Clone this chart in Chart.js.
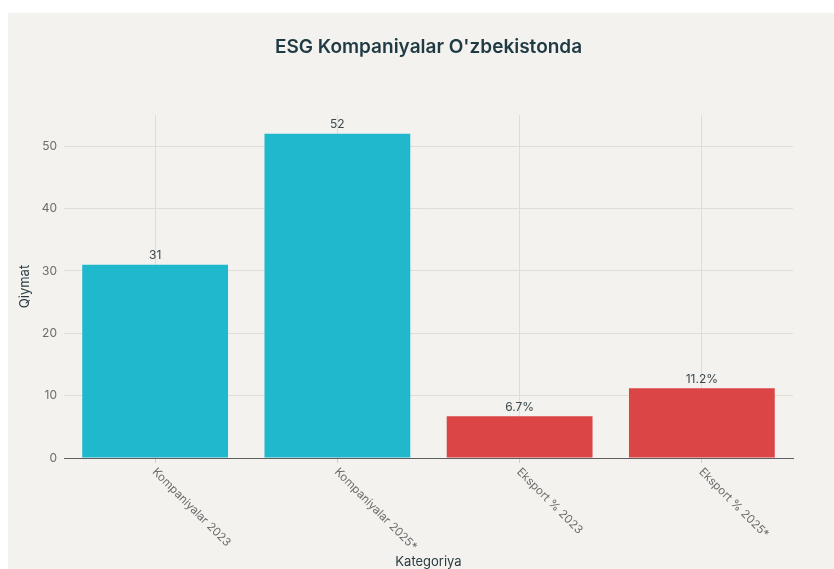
<!DOCTYPE html>
<html>
<head>
<meta charset="utf-8">
<script src="https://cdn.jsdelivr.net/npm/chart.js@4/dist/chart.umd.min.js"></script>
<style>
  html, body { margin: 0; padding: 0; background: #ffffff; }
  #wrap { position: absolute; left: 8px; top: 13px; width: 826px; height: 556px; background: #f3f2ee; }
</style>
</head>
<body>
<div id="wrap"><canvas id="c"></canvas></div>
<script>
const chartTitle = "ESG Kompaniyalar O'zbekistonda";
const categories = ["Kompaniyalar 2023", "Kompaniyalar 2025*", "Eksport % 2023", "Eksport % 2025*"];
const values = [31, 52, 6.7, 11.2];
const valueSuffix = ["", "", "%", "%"];
const barColors = ["#1FB8CD", "#1FB8CD", "#DB4545", "#DB4545"];
const yTicks = [0, 10, 20, 30, 40, 50];
const yMax = 55;
const xTitle = "Kategoriya";
const yTitle = "Qiymat";

const FONT = "Inter, 'Liberation Sans', Arial, sans-serif";

const customText = {
  id: 'customText',
  afterDatasetsDraw(chart) {
    const ctx = chart.ctx;
    const meta = chart.getDatasetMeta(0);
    ctx.save();
    ctx.font = "12px " + FONT;
    ctx.fillStyle = "#3b474d";
    ctx.textAlign = "center";
    ctx.textBaseline = "middle";
    meta.data.forEach((el, i) => {
      ctx.fillText(String(values[i]) + valueSuffix[i], el.x, el.y - 9);
    });
    ctx.restore();
  },
  afterDraw(chart) {
    const ctx = chart.ctx;
    const xs = chart.scales.x;
    ctx.save();
    // rotated category labels
    ctx.font = "11.5px " + FONT;
    ctx.fillStyle = "#6b6b6b";
    ctx.textAlign = "left";
    ctx.textBaseline = "middle";
    categories.forEach((lab, i) => {
      const x = xs.getPixelForTick(i) - 1;
      const y = xs.top + 12;
      ctx.save();
      ctx.translate(x, y);
      ctx.rotate(Math.PI / 4);
      ctx.fillText(lab, 0, 0);
      ctx.restore();
    });
    // chart title
    ctx.font = "600 19px " + FONT;
    ctx.fillStyle = "#1f3a43";
    ctx.textAlign = "center";
    ctx.textBaseline = "middle";
    const ca = chart.chartArea;
    ctx.fillText(chartTitle, (ca.left + ca.right) / 2, 34);
    ctx.restore();
  }
};

new Chart(document.getElementById('c'), {
  type: 'bar',
  data: {
    labels: categories,
    datasets: [{
      data: values,
      backgroundColor: barColors,
      borderWidth: 0,
      categoryPercentage: 0.8,
      barPercentage: 1.0
    }]
  },
  options: {
    responsive: true,
    maintainAspectRatio: false,
    animation: false,
    layout: { padding: { top: 102, right: 41, left: 0, bottom: 0 } },
    plugins: {
      legend: { display: false },
      title: { display: false },
      tooltip: { enabled: false }
    },
    scales: {
      x: {
        type: 'category',
        offset: true,
        grid: {
          display: true,
          offset: false,
          color: "#deddd8",
          lineWidth: 1,
          drawTicks: true,
          tickLength: 5,
          tickColor: "#cfcfcb"
        },
        border: { display: true, color: "#5e5e5e", width: 1 },
        ticks: { display: false },
        title: {
          display: true,
          text: xTitle,
          color: "#2a3b42",
          font: { family: FONT, size: 13, lineHeight: 1 },
          padding: { top: 0, bottom: 0 }
        },
        afterFit(scale) { scale.height = 111; }
      },
      y: {
        min: 0,
        max: yMax,
        grid: { color: "#deddd8", lineWidth: 1, drawTicks: false },
        border: { display: false },
        ticks: {
          stepSize: 10,
          padding: 7,
          color: "#6b6b6b",
          font: { family: FONT, size: 12 }
        },
        afterBuildTicks(scale) {
          scale.ticks = yTicks.map(v => ({ value: v }));
        },
        title: {
          display: true,
          text: yTitle,
          color: "#2a3b42",
          font: { family: FONT, size: 13 },
          padding: { top: 9, bottom: 0 }
        },
        afterFit(scale) { scale.width = 56; }
      }
    }
  },
  plugins: [customText]
});
</script>
</body>
</html>
